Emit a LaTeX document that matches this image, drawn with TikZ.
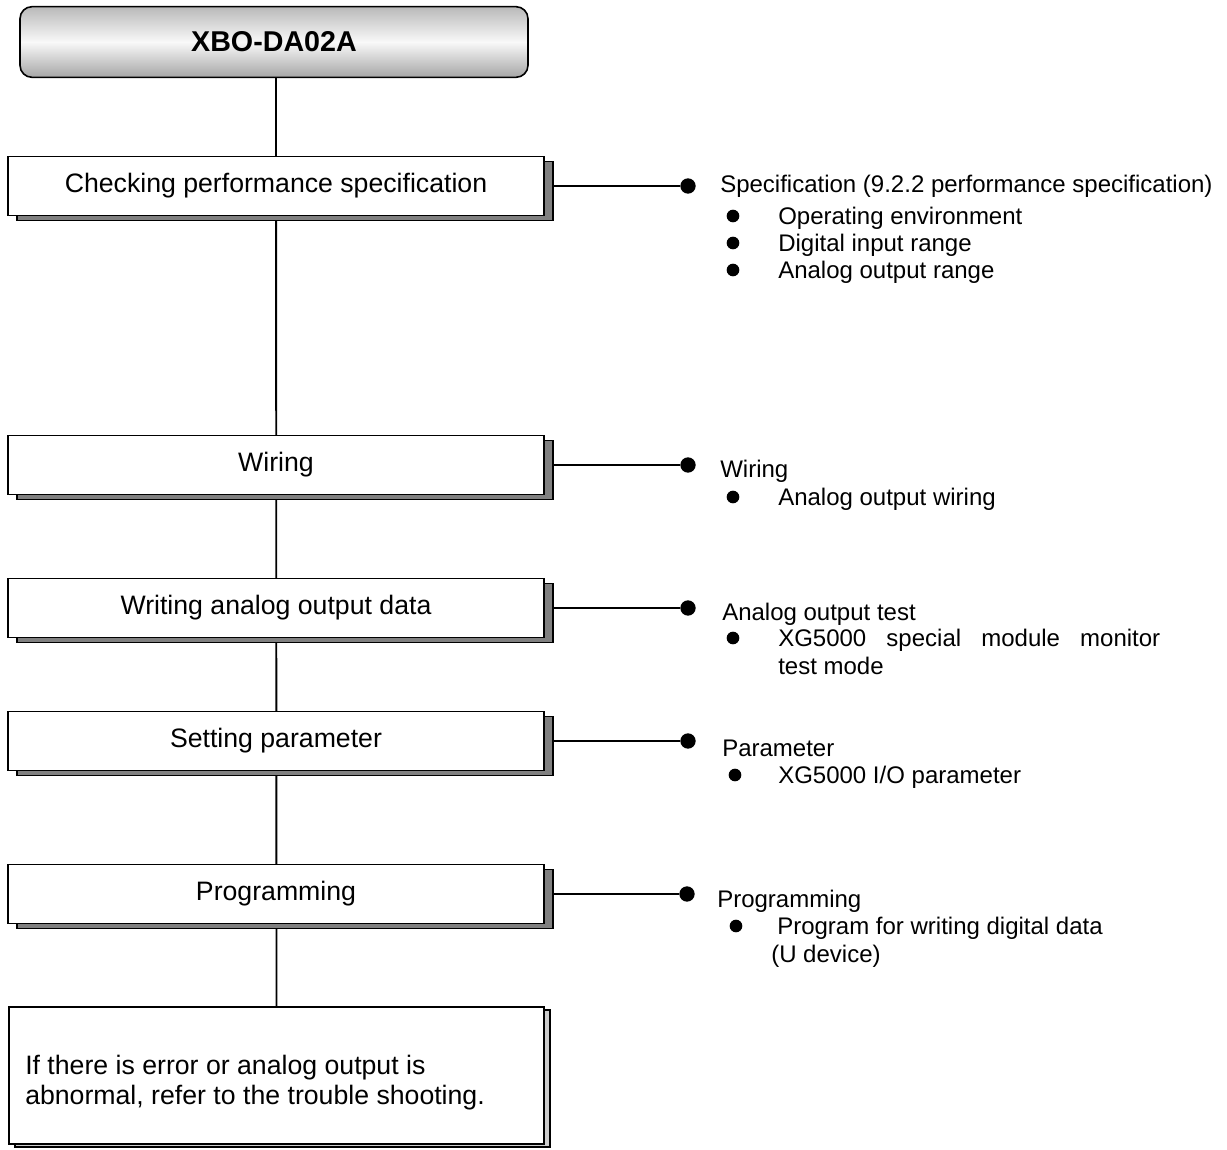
\documentclass[tikz,border=0pt]{standalone}
\usepackage{fontspec}
\setmainfont{Liberation Sans}
\usetikzlibrary{shadows,backgrounds}

\begin{document}
\begin{tikzpicture}[
    x=0.75pt, y=-0.75pt,
    headbox/.style={draw, line width=1.2pt, rounded corners=9pt,
        minimum width=381pt, minimum height=53pt,
        top color=gray!55, bottom color=gray!70, middle color=gray!5,
        font=\bfseries\fontsize{21.5}{26}\selectfont},
    stepbox/.style={draw, fill=white, line width=1.2pt,
        minimum width=402pt, minimum height=44pt,
        font=\fontsize{20}{24}\selectfont,
        copy shadow={shadow xshift=6.75pt, shadow yshift=-3.75pt, fill=gray, draw=black}},
    lastbox/.style={draw, fill=white, line width=1.2pt,
        minimum width=401pt, minimum height=103pt,
        copy shadow={shadow xshift=4.5pt, shadow yshift=-2.25pt, fill=gray!40, draw=black}},
    bigdot/.style={circle, fill=black, inner sep=0pt, minimum size=11.5pt},
    bullet/.style={circle, fill=black, inner sep=0pt, minimum size=9.5pt},
    note/.style={anchor=base west, inner sep=0pt, font=\fontsize{18}{21}\selectfont},
    boxnote/.style={note, font=\fontsize{20}{24}\selectfont},
    link/.style={line width=1.4pt}
]
\useasboundingbox (0,0) rectangle (1227,1149);

% Module and steps
\node[headbox] (top) at (274,42) {XBO-DA02A};
\node[stepbox] (b1) at (276,186) {Checking performance specification};
\node[stepbox] (b2) at (276,465) {Wiring};
\node[stepbox] (b3) at (276,608) {Writing analog output data};
\node[stepbox] (b4) at (276,741) {Setting parameter};
\node[stepbox] (b5) at (276,894) {Programming};
\node[lastbox] (last) at (276.5,1075.5) {};
\node[boxnote] (lastt1) at (25,1074) {If there is error or analog output is};
\node[boxnote] (lastt2) at (25,1104) {abnormal, refer to the trouble shooting.};

% Joints on the right
\node[bigdot] (d1) at (688,186) {};
\node[bigdot] (d2) at (688,465) {};
\node[bigdot] (d3) at (688,608) {};
\node[bigdot] (d4) at (688,741) {};
\node[bigdot] (d5) at (687,894) {};

% Notes
\node[note] (s1) at (720,192) {Specification (9.2.2 performance specification)};
\node[bullet] (s1a) at (733,216) {};
\node[note] (s1at) at (778,224) {Operating environment};
\node[bullet] (s1b) at (733,243) {};
\node[note] (s1bt) at (778,251) {Digital input range};
\node[bullet] (s1c) at (733,270) {};
\node[note] (s1ct) at (778,278) {Analog output range};

\node[note] (s2) at (720,477) {Wiring};
\node[bullet] (s2a) at (733,497) {};
\node[note] (s2at) at (778,505) {Analog output wiring};

\node[note] (s3) at (722,620) {Analog output test};
\node[bullet] (s3a) at (733,638) {};
\node[note] (s3at) at (778,646) {\makebox[286.5pt][s]{XG5000 special module monitor}};
\node[note] (s3bt) at (778,674) {test mode};

\node[note] (s4) at (722,756) {Parameter};
\node[bullet] (s4a) at (735,775) {};
\node[note] (s4at) at (778,783) {XG5000 I/O parameter};

\node[note] (s5) at (717,907) {Programming};
\node[bullet] (s5a) at (736,926) {};
\node[note] (s5at) at (777,934) {Program for writing digital data};
\node[note] (s5bt) at (771,962) {(U device)};

% Connections
\begin{scope}[on background layer]
\draw[link] (top.south -| b1) -- (last.north);
\draw[link] (b1.east) -- (d1);
\draw[link] (b2.east) -- (d2);
\draw[link] (b3.east) -- (d3);
\draw[link] (b4.east) -- (d4);
\draw[link] (b5.east) -- (d5);
\end{scope}

\end{tikzpicture}
\end{document}
